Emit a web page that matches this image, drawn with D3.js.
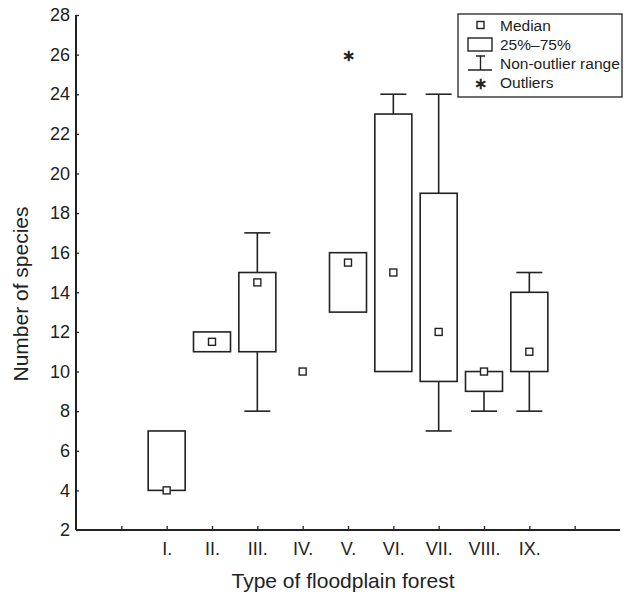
<!DOCTYPE html>
<html>
<head>
<meta charset="utf-8">
<script src="https://cdn.jsdelivr.net/npm/d3@7"></script>
<style>
body { margin: 0; background: #fff; }
svg { font-family: "Liberation Sans", Arial, sans-serif; }
</style>
</head>
<body>
<div id="chart"></div>
<script>
// x slots: blank, I..IX, blank
var slots = ["", "I.", "II.", "III.", "IV.", "V.", "VI.", "VII.", "VIII.", "IX.", " "];
var forests = ["I.", "II.", "III.", "IV.", "V.", "VI.", "VII.", "VIII.", "IX."];
var medians = [4, 11.5, 14.5, 10, 15.5, 15, 12, 10, 11];
var q1 = [4, 11, 11, 10, 13, 10, 9.5, 9, 10];
var q3 = [7, 12, 15, 10, 16, 23, 19, 10, 14];
var mins = [4, 11, 8, 10, 13, 10, 7, 8, 8];
var maxs = [7, 12, 17, 10, 16, 24, 24, 10, 15];
var outliers = [{ f: "V.", v: 26 }];
var yTicks = [2, 4, 6, 8, 10, 12, 14, 16, 18, 20, 22, 24, 26, 28];

function init() {
  var w = 626, h = 597;
  var left = 76, right = 620, top = 15, bottom = 530;
  var ink = "#222";

  var svg = d3.select("#chart").append("svg")
    .attr("width", w)
    .attr("height", h);

  var x = d3.scalePoint().domain(slots).range([left, right]).padding(1);
  var y = d3.scaleLinear().domain([2, 28]).range([bottom, top]);

  // axes
  var yAxis = svg.append("g")
    .attr("transform", "translate(" + left + ",0)")
    .call(d3.axisLeft(y).tickValues(yTicks).tickSize(-3).tickPadding(6));
  var xAxis = svg.append("g")
    .attr("transform", "translate(0," + bottom + ")")
    .call(d3.axisBottom(x).tickSize(-4).tickPadding(12));

  [yAxis, xAxis].forEach(function(g) {
    g.select(".domain").attr("stroke", ink).attr("stroke-width", 2);
    g.selectAll(".tick line").attr("stroke", ink).attr("stroke-width", 1.3);
    g.selectAll(".tick text").attr("fill", "#222").style("font-size", "18px");
  });
  xAxis.select(".domain").attr("d", "M" + left + ",0H" + right);
  yAxis.select(".domain").attr("d", "M0," + bottom + "V" + top);

  svg.append("text")
    .attr("x", 343)
    .attr("y", 588)
    .attr("text-anchor", "middle")
    .attr("fill", "#222")
    .style("font-size", "21px")
    .text("Type of floodplain forest");

  svg.append("text")
    .attr("transform", "translate(28,294) rotate(-90)")
    .attr("text-anchor", "middle")
    .attr("fill", "#222")
    .style("font-size", "21px")
    .text("Number of species");

  var bw = 37, cap = 26;
  var data = forests.map(function(f, i) {
    return { f: f, med: medians[i], q1: q1[i], q3: q3[i], lo: mins[i], hi: maxs[i] };
  });

  var g = svg.append("g").attr("fill", "none").attr("stroke", ink).attr("stroke-width", 1.6);

  data.forEach(function(d) {
    var cx = x(d.f);
    if (d.hi > d.q3) {
      g.append("line").attr("x1", cx).attr("x2", cx).attr("y1", y(d.q3)).attr("y2", y(d.hi));
      g.append("line").attr("x1", cx - cap / 2).attr("x2", cx + cap / 2).attr("y1", y(d.hi)).attr("y2", y(d.hi));
    }
    if (d.lo < d.q1) {
      g.append("line").attr("x1", cx).attr("x2", cx).attr("y1", y(d.q1)).attr("y2", y(d.lo));
      g.append("line").attr("x1", cx - cap / 2).attr("x2", cx + cap / 2).attr("y1", y(d.lo)).attr("y2", y(d.lo));
    }
    if (d.q3 > d.q1) {
      g.append("rect")
        .attr("x", cx - bw / 2)
        .attr("y", y(d.q3))
        .attr("width", bw)
        .attr("height", y(d.q1) - y(d.q3))
        .attr("fill", "#fff");
    }
  });

  g.selectAll("rect.med")
    .data(data)
    .enter()
    .append("rect")
    .attr("class", "med")
    .attr("x", function(d) { return x(d.f) - 3.5; })
    .attr("y", function(d) { return y(d.med) - 3.5; })
    .attr("width", 7)
    .attr("height", 7)
    .attr("fill", "#fff")
    .attr("stroke-width", 1.4);

  svg.selectAll("text.out")
    .data(outliers)
    .enter()
    .append("text")
    .attr("class", "out")
    .attr("x", function(d) { return x(d.f); })
    .attr("y", function(d) { return y(d.v) + 6; })
    .attr("text-anchor", "middle")
    .attr("fill", ink)
    .style("font-size", "16px")
    .style("font-weight", "bold")
    .text("\u2217");

  // legend
  var lg = svg.append("g");
  lg.append("rect")
    .attr("x", 458).attr("y", 14).attr("width", 164).attr("height", 83)
    .attr("fill", "#fff").attr("stroke", ink).attr("stroke-width", 1.3);
  var labels = ["Median", "25%\u201375%", "Non-outlier range", "Outliers"];
  var ly = [25, 44, 63, 82];
  lg.selectAll("text.lab")
    .data(labels)
    .enter()
    .append("text")
    .attr("class", "lab")
    .attr("x", 500)
    .attr("y", function(d, i) { return ly[i] + 5.5; })
    .attr("fill", "#222")
    .style("font-size", "15.5px")
    .text(function(d) { return d; });
  lg.append("rect").attr("x", 477).attr("y", 21.5).attr("width", 7).attr("height", 7)
    .attr("fill", "#fff").attr("stroke", ink).attr("stroke-width", 1.4);
  lg.append("rect").attr("x", 468).attr("y", 38).attr("width", 24).attr("height", 13)
    .attr("fill", "#fff").attr("stroke", ink).attr("stroke-width", 1.4);
  lg.append("path").attr("d", "M476,56H485M480.5,56V70M468,70H492")
    .attr("fill", "none").attr("stroke", ink).attr("stroke-width", 1.4);
  lg.append("text").attr("x", 480.5).attr("y", 89).attr("text-anchor", "middle")
    .attr("fill", ink).style("font-size", "16px").style("font-weight", "bold").text("\u2217");
}

window.onload = init;
</script>
</body>
</html>
